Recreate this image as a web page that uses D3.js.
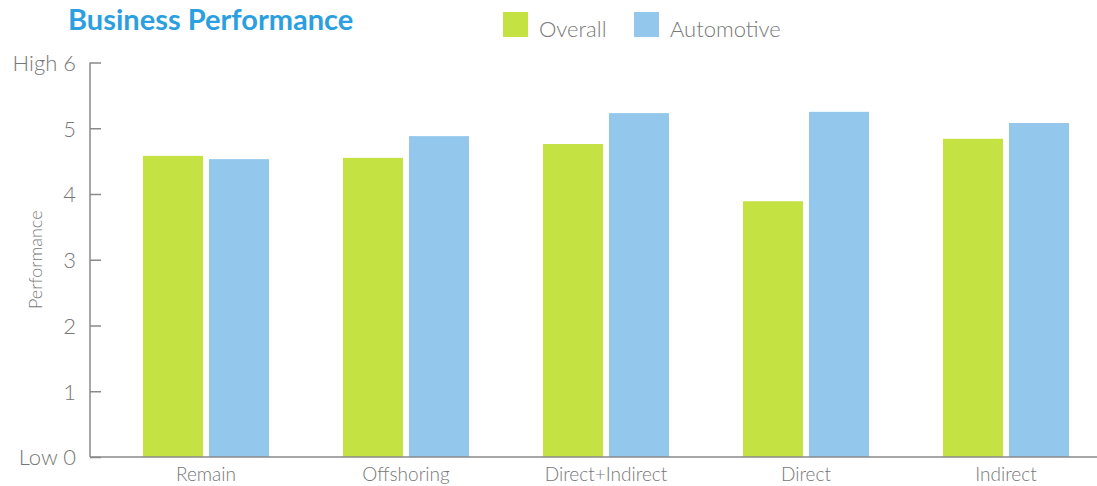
<!DOCTYPE html>
<html>
<head>
<meta charset="utf-8">
<script src="https://cdn.jsdelivr.net/npm/d3@7"></script>
<style>
  body { margin: 0; background: #fff; }
  svg { font-family: Lato, "Open Sans", sans-serif; }
  .yaxis .domain, .yaxis .tick line { stroke: #8a8a8a; stroke-width: 1.5; }
  .yaxis text { fill: #777; font-family: Lato, sans-serif; font-size: 22px; font-weight: 300; }
  .xlabel { fill: #777; font-size: 19px; font-weight: 300; }
</style>
</head>
<body>
<div id="chart"></div>
<script>
// data
var categories = ["Remain", "Offshoring", "Direct+Indirect", "Direct", "Indirect"];
var seriesNames = ["Overall", "Automotive"];
var overall = [4.58, 4.55, 4.76, 3.89, 4.84];
var automotive = [4.53, 4.88, 5.23, 5.25, 5.08];
var yTicks = [0, 1, 2, 3, 4, 5, 6];
var colors = ["#c5e243", "#93c7ec"];

var W = 1097, H = 486;
var margin = {top: 62.5, right: 0, bottom: 29, left: 90};
var height = H - margin.top - margin.bottom;

var svg = d3.select("#chart").append("svg")
    .attr("width", W)
    .attr("height", H);

var g = svg.append("g")
    .attr("transform", "translate(" + margin.left + "," + margin.top + ")");

// scales
var x0 = d3.scaleBand()
    .domain(categories)
    .range([16, 1016])
    .paddingInner(0.37)
    .paddingOuter(0.185);
var x1 = d3.scaleBand()
    .domain(seriesNames)
    .range([0, x0.bandwidth()])
    .paddingInner(0.0909);
var y = d3.scaleLinear()
    .domain([0, 6])
    .range([height, 0]);

// y axis, ticks pointing into the plot
var yAxis = d3.axisLeft(y)
    .tickValues(yTicks)
    .tickSize(-11)
    .tickPadding(14)
    .tickFormat(function(d) { return d == 6 ? "High 6" : d == 0 ? "Low 0" : d; });
g.append("g").attr("class", "yaxis").call(yAxis);
g.select(".yaxis .domain").attr("d", "M0," + y(6) + "V" + y(0));
g.selectAll(".yaxis text").attr("dy", "0.36em");

// bars
var rows = categories.map(function(c, i) { return {cat: c, values: [overall[i], automotive[i]]}; });
var groups = g.append("g").attr("class", "bars").selectAll("g")
    .data(rows)
  .enter().append("g")
    .attr("transform", function(d) { return "translate(" + x0(d.cat) + ",0)"; });
groups.selectAll("rect")
    .data(function(d) { return d.values.map(function(v, j) { return {name: seriesNames[j], value: v, j: j}; }); })
  .enter().append("rect")
    .attr("x", function(d) { return x1(d.name); })
    .attr("width", x1.bandwidth())
    .attr("y", function(d) { return y(d.value); })
    .attr("height", function(d) { return height - y(d.value); })
    .attr("fill", function(d) { return colors[d.j]; });

// x baseline
g.append("line")
    .attr("x1", 0).attr("x2", W - margin.left)
    .attr("y1", y(0)).attr("y2", y(0))
    .attr("stroke", "#8a8a8a").attr("stroke-width", 1.5);

// x labels
g.selectAll(".xlabel")
    .data(categories)
  .enter().append("text")
    .attr("class", "xlabel")
    .attr("x", function(d) { return x0(d) + x0.bandwidth() / 2; })
    .attr("y", height + 24)
    .attr("text-anchor", "middle")
    .text(function(d) { return d; });

// y title
svg.append("text")
    .attr("transform", "translate(42," + (margin.top + height / 2) + ") rotate(-90)")
    .attr("text-anchor", "middle")
    .attr("fill", "#777")
    .attr("font-size", "18px")
    .attr("font-weight", 300)
    .text("Performance");

// title
svg.append("text")
    .attr("x", 68).attr("y", 30)
    .attr("fill", "#2c9fe0")
    .attr("font-size", "29px")
    .attr("font-weight", "bold")
    .text("Business Performance");

// legend
var legend = svg.append("g").selectAll("g")
    .data(seriesNames)
  .enter().append("g")
    .attr("transform", function(d, i) { return "translate(" + (503 + i * 131) + ",12)"; });
legend.append("rect")
    .attr("width", 25).attr("height", 25)
    .attr("fill", function(d, i) { return colors[i]; });
legend.append("text")
    .attr("x", 36).attr("y", 24.5)
    .attr("fill", "#777")
    .attr("font-size", "22px")
    .attr("font-weight", 300)
    .text(function(d) { return d; });
</script>
</body>
</html>
